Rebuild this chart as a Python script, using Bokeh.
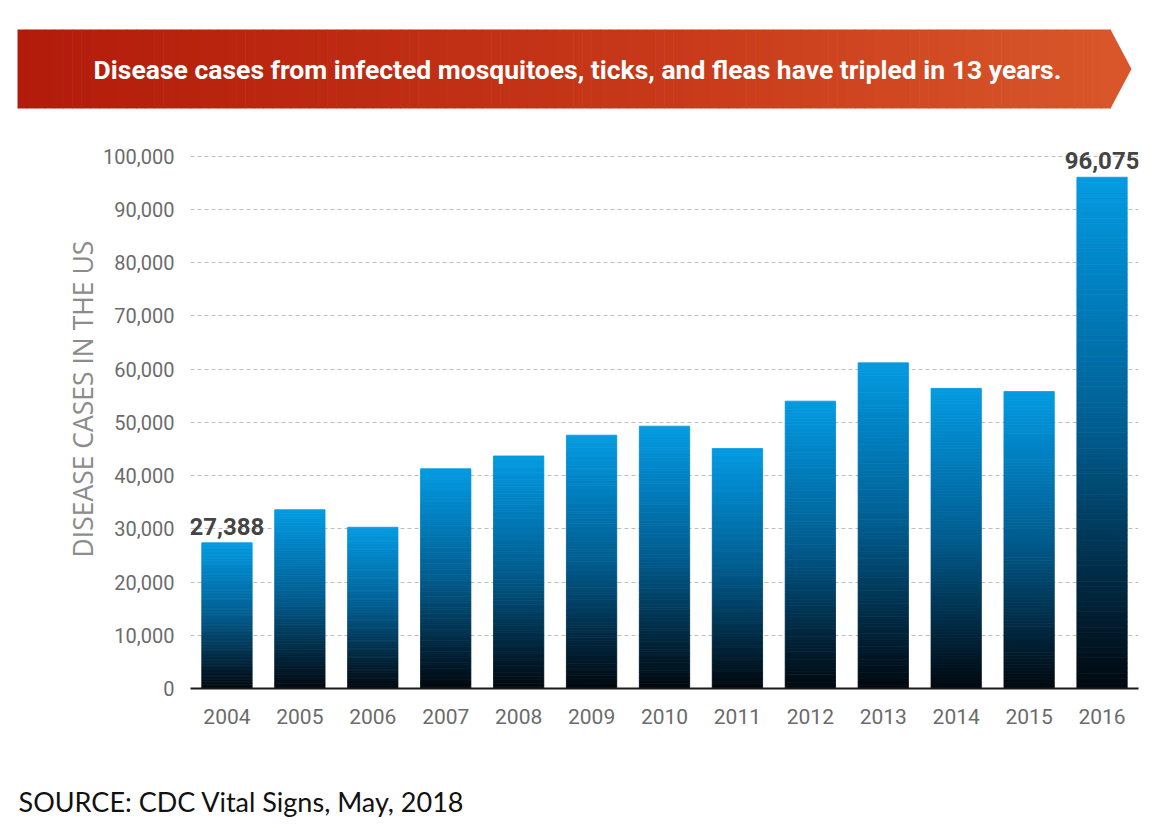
from bokeh.plotting import figure
from bokeh.models import (ColumnDataSource, FactorRange, Range1d, FixedTicker,
                          NumeralTickFormatter, Title)
from bokeh.core.properties import value
from bokeh.embed import file_html
from bokeh.resources import INLINE

# ---------------- data ----------------
years = ["2004", "2005", "2006", "2007", "2008", "2009", "2010",
         "2011", "2012", "2013", "2014", "2015", "2016"]
cases = [27388, 33600, 30300, 41300, 43700, 47600, 49300,
         45100, 54000, 61200, 56400, 55800, 96075]
labeled_years = ["2004", "2016"]
y_ticks = [0, 10000, 20000, 30000, 40000, 50000, 60000, 70000, 80000, 90000, 100000]

title_text = "Disease cases from infected mosquitoes, ticks, and fleas have tripled in 13 years."
y_label = "DISEASE CASES IN THE US"
source_text = "SOURCE: CDC Vital Signs, May, 2018"

W = 1144

# ---------------- helpers ----------------
def interp_color(stops, t):
    for (t0, c0), (t1, c1) in zip(stops[:-1], stops[1:]):
        if t0 <= t <= t1:
            f = (t - t0) / (t1 - t0) if t1 > t0 else 0
            c = [round(a + (b - a) * f) for a, b in zip(c0, c1)]
            return "#%02x%02x%02x" % tuple(c)
    c = stops[-1][1]
    return "#%02x%02x%02x" % tuple(c)

bar_stops = [(0.0, (0, 8, 14)), (0.2, (0, 40, 64)), (0.5, (0, 92, 142)),
             (0.8, (0, 130, 195)), (1.0, (5, 155, 225))]
banner_stops = [(0.0, (178, 27, 10)), (0.6, (200, 57, 26)), (1.0, (216, 86, 42))]

def blank(fig):
    fig.axis.visible = False
    fig.grid.visible = False
    fig.outline_line_color = None

# ---------------- banner figure ----------------
bh = 120
banner = figure(width=W, height=bh, x_range=Range1d(0, W), y_range=Range1d(bh, 0),
                title=None, toolbar_location=None, output_backend="svg", min_border=0)
blank(banner)
bx0, bx1, btip, by0, by1 = 17, 1110, 1131, 29, 108
ns = 120
qs = dict(left=[], right=[], color=[])
for k in range(ns):
    l = bx0 + (bx1 - bx0) * k / ns
    r = bx0 + (bx1 - bx0) * (k + 1) / ns
    qs["left"].append(l)
    qs["right"].append(r + 0.6)
    qs["color"].append(interp_color(banner_stops, (k + 0.5) / ns))
banner.quad(left="left", right="right", top=by0, bottom=by1, fill_color="color",
            line_color=None, source=ColumnDataSource(qs))
banner.patch([bx1, btip, bx1], [by0, (by0 + by1) / 2, by1],
             fill_color=interp_color(banner_stops, 1.0), line_color=None)
banner.text(x=[577], y=[69], text=[title_text], text_color="white",
            text_font=value("Roboto"), text_font_style="bold", text_font_size="26.5px",
            text_align="center", text_baseline="middle")

# ---------------- main chart ----------------
p = figure(x_range=FactorRange(*years, range_padding=0), y_range=Range1d(0, 101100),
           frame_width=948, frame_height=538, title=None,
           min_border_left=190, min_border_right=6, min_border_top=30, min_border_bottom=72,
           toolbar_location=None, output_backend="svg")
p.outline_line_color = None

N = 100
seg = dict(x=[], top=[], bottom=[], color=[])
for yr, v in zip(years, cases):
    for k in range(N):
        seg["x"].append(yr)
        seg["bottom"].append(v * k / N)
        seg["top"].append(v * (k + 1) / N)
        seg["color"].append(interp_color(bar_stops, (k + 0.5) / N))
p.vbar(x="x", top="top", bottom="bottom", width=0.69, fill_color="color",
       line_color="color", line_width=0.8, source=ColumnDataSource(seg))

lab = dict(x=[], y=[], t=[])
for yr, v in zip(years, cases):
    if yr in labeled_years:
        lab["x"].append(yr)
        lab["y"].append(v)
        lab["t"].append(f"{v:,}")
p.text(x="x", y="y", text="t", source=ColumnDataSource(lab), text_align="center",
       text_baseline="bottom", y_offset=-8, text_color="#444444",
       text_font=value("Roboto"), text_font_style="bold", text_font_size="24px")

p.xgrid.visible = False
p.ygrid.ticker = FixedTicker(ticks=y_ticks)
p.ygrid.grid_line_color = "#bdbdbd"
p.ygrid.grid_line_dash = "4 3"
p.ygrid.grid_line_width = 1

p.yaxis.ticker = FixedTicker(ticks=y_ticks)
p.yaxis.formatter = NumeralTickFormatter(format="0,0")
p.yaxis.axis_line_color = None
p.yaxis.major_tick_line_color = None
p.yaxis.minor_tick_line_color = None
p.yaxis.major_label_standoff = 10
p.yaxis.major_label_text_font = "Roboto"
p.yaxis.major_label_text_font_size = "20px"
p.yaxis.major_label_text_color = "#6b6b6b"

ylab = Title(text=y_label, align="left", offset=131, standoff=0,
             text_font="Open Sans", text_font_style="normal", text_font_size="26.5px",
             text_color="#8c8c8c")
p.add_layout(ylab, "left")

p.xaxis.axis_line_color = "#1a1a1a"
p.xaxis.axis_line_width = 2
p.xaxis.major_tick_line_color = None
p.xaxis.minor_tick_line_color = None
p.xaxis.major_label_standoff = 14
p.xaxis.major_label_text_font = "Roboto"
p.xaxis.major_label_text_font_size = "21px"
p.xaxis.major_label_text_color = "#6b6b6b"

# ---------------- source figure ----------------
sh = 60
src = figure(width=W, height=sh, x_range=Range1d(0, W), y_range=Range1d(sh, 0),
             title=None, toolbar_location=None, output_backend="svg", min_border=0)
blank(src)
src.text(x=[18], y=[57], text=[source_text], text_color="#111111",
         text_font=value("Lato"), text_font_size="27px", text_align="left",
         text_baseline="bottom")

open("out.html", "w").write(file_html([banner, p, src], INLINE))
